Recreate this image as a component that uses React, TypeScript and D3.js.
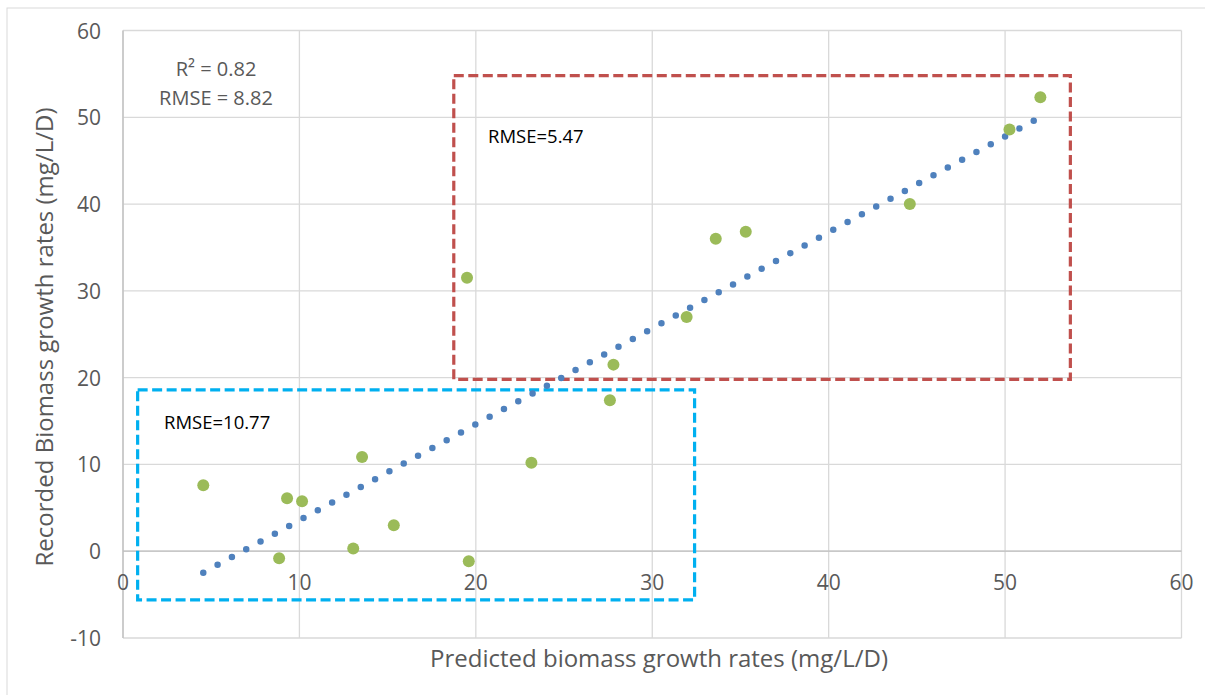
import React from "react";
import * as d3 from "d3";

const predicted = [4.55, 8.85, 9.3, 10.15, 13.55, 13.05, 15.35, 19.6, 23.15, 19.5, 27.6, 27.8, 31.95, 33.6, 35.3, 44.6, 50.25, 52.0];
const recorded = [7.6, -0.8, 6.1, 5.75, 10.85, 0.3, 3.0, -1.15, 10.2, 31.5, 17.4, 21.5, 27.0, 36.0, 36.8, 40.0, 48.6, 52.3];

const xTicks = [0, 10, 20, 30, 40, 50, 60];
const yTicks = [-10, 0, 10, 20, 30, 40, 50, 60];

// trend line: y = 1.106x - 7.5
const trendSlope = 1.106;
const trendIntercept = -7.5;

// annotation boxes in data units: [x0, x1, y0, y1]
const redBox = [18.75, 53.7, 19.8, 54.8];
const blueBox = [0.83, 32.4, -5.6, 18.6];

const W = 1205;
const H = 695;
const font = "'Open Sans', sans-serif";

export default function App() {
  const x = d3.scaleLinear().domain([0, 60]).range([123, 1181.5]);
  const y = d3.scaleLinear().domain([-10, 60]).range([638, 30.5]);

  const pts = predicted.map((p, i) => ({ p, r: recorded[i] }));
  const xMin = d3.min(predicted) as number;
  const xMax = d3.max(predicted) as number;
  const trend = d3
    .line<number>()
    .x((d) => x(d))
    .y((d) => y(trendSlope * d + trendIntercept));

  const box = (b: number[]) => ({
    x: x(b[0]),
    y: y(b[3]),
    width: x(b[1]) - x(b[0]),
    height: y(b[2]) - y(b[3]),
  });

  return (
    <svg
      width={W}
      height={H}
      style={{ position: "absolute", left: 0, top: 0, background: "#fff" }}
      fontFamily={font}
    >
      <rect x={7} y={8} width={1220} height={700} fill="#fff" stroke="#d9d9d9" />

      {/* grid */}
      {xTicks.map((t) => (
        <line key={"gx" + t} x1={x(t)} x2={x(t)} y1={y(60)} y2={y(-10)} stroke="#d9d9d9" strokeWidth={1.3} />
      ))}
      {yTicks.map((t) => (
        <line key={"gy" + t} x1={x(0)} x2={x(60)} y1={y(t)} y2={y(t)} stroke="#d9d9d9" strokeWidth={1.3} />
      ))}
      <line x1={x(0)} x2={x(60)} y1={y(0)} y2={y(0)} stroke="#bfbfbf" strokeWidth={1.3} />
      <line x1={x(0)} x2={x(0)} y1={y(60)} y2={y(-10)} stroke="#bfbfbf" strokeWidth={1.3} />

      {/* tick labels */}
      {xTicks.map((t) => (
        <text key={"tx" + t} x={x(t)} y={y(0) + 39} textAnchor="middle" fontSize={21} fill="#595959">
          {t}
        </text>
      ))}
      {yTicks.map((t) => (
        <text key={"ty" + t} x={101} y={y(t) + 8} textAnchor="end" fontSize={21} fill="#595959">
          {t}
        </text>
      ))}

      {/* boxes */}
      <rect {...box(redBox)} fill="none" stroke="#c0504d" strokeWidth={3.2} strokeDasharray="10 4.5" />
      <rect {...box(blueBox)} fill="none" stroke="#00b0f0" strokeWidth={3.2} strokeDasharray="10 4.5" />

      {/* trend */}
      <path
        d={trend([xMin, xMax]) as string}
        fill="none"
        stroke="#4f81bd"
        strokeWidth={6.5}
        strokeLinecap="round"
        strokeDasharray="0 16.3"
      />

      {/* points */}
      {pts.map((d, i) => (
        <circle key={i} cx={x(d.p)} cy={y(d.r)} r={6} fill="#9bbb59" />
      ))}

      {/* annotations */}
      <text x={216} y={76} textAnchor="middle" fontSize={20} fill="#595959">
        R² = 0.82
      </text>
      <text x={216} y={105} textAnchor="middle" fontSize={20} fill="#595959">
        RMSE = 8.82
      </text>
      <text x={488} y={143} fontSize={18.5} fill="#000">
        RMSE=5.47
      </text>
      <text x={164} y={429} fontSize={18.5} fill="#000">
        RMSE=10.77
      </text>

      {/* axis titles */}
      <text x={659} y={667} textAnchor="middle" fontSize={24} fill="#595959">
        Predicted biomass growth rates (mg/L/D)
      </text>
      <text
        transform={`translate(53,${337}) rotate(-90)`}
        textAnchor="middle"
        fontSize={24}
        fill="#595959"
      >
        Recorded Biomass growth rates (mg/L/D)
      </text>
    </svg>
  );
}
